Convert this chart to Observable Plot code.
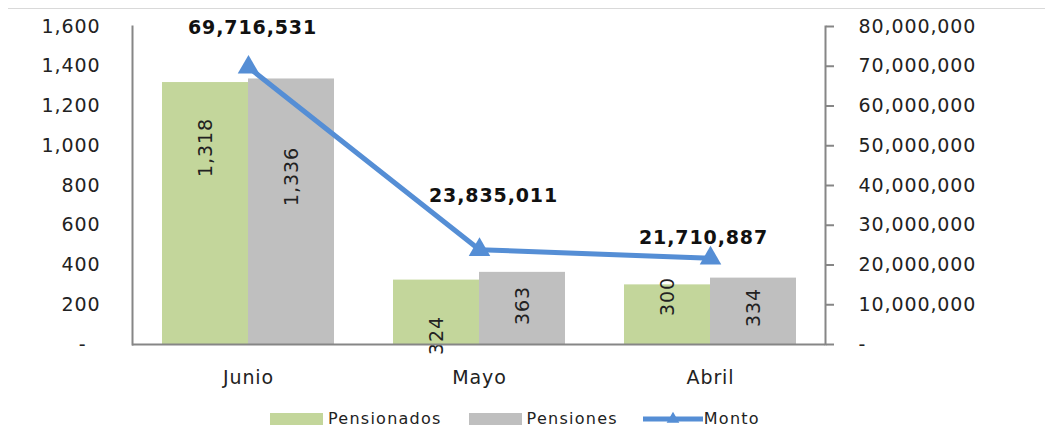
<!DOCTYPE html>
<html>
<head>
<meta charset="utf-8">
<script src="https://cdn.jsdelivr.net/npm/d3@7"></script>
<script src="https://cdn.jsdelivr.net/npm/@observablehq/plot@0.6"></script>
<style>
  html, body { margin: 0; padding: 0; background: #fff; }
  #wrap { position: relative; width: 1045px; height: 428px; overflow: hidden; font-family: "DejaVu Sans", sans-serif; }
  #topline { position: absolute; left: 8px; top: 8px; width: 1037px; height: 1px; background: #d9d9d9; }
  #chart { position: absolute; left: 0; top: 0; }
  #legend { position: absolute; left: 270px; top: 409px; display: flex; align-items: center; font-size: 16px; letter-spacing: 1.25px; color: #222; }
  .item { display: flex; align-items: center; }
  .sw { width: 53px; height: 12px; margin-right: 5px; }
</style>
</head>
<body>
<div id="wrap">
  <div id="topline"></div>
  <div id="chart"></div>
  <div id="legend"></div>
</div>
<script>
// ---- data ----
const months = ["Junio", "Mayo", "Abril"];
const pensionados = [1318, 324, 300];
const pensiones = [1336, 363, 334];
const monto = [69716531, 23835011, 21710887];
const leftTicks = [0, 200, 400, 600, 800, 1000, 1200, 1400, 1600];
const rightTicks = [0, 10000000, 20000000, 30000000, 40000000, 50000000, 60000000, 70000000, 80000000];

// ---- layout (label placement as in the original) ----
const pensionadosLabelAt = [991, 45, 241];
const pensionesLabelAt = [845, 196, 186];
const montoLabelOffset = [[4, -39], [14, -54], [-7, -20]];

const green = "#C3D69B", gray = "#BFBFBF", blue = "#558ED5";
const axisGray = "#868686", ink = "#222";
const k = 1600 / 80000000; // right-axis units -> left-axis units
const fmt = d3.format(",");

const barRows = [
  ...months.map((m, i) => ({mes: m, serie: "Pensionados", valor: pensionados[i], labelAt: pensionadosLabelAt[i]})),
  ...months.map((m, i) => ({mes: m, serie: "Pensiones", valor: pensiones[i], labelAt: pensionesLabelAt[i]}))
];
const lineRows = months.map((m, i) => ({mes: m, monto: monto[i]}));
const half = 43;

const chart = Plot.plot({
  width: 1045,
  height: 400,
  marginLeft: 132,
  marginRight: 220,
  marginTop: 26,
  marginBottom: 56,
  style: {fontFamily: "DejaVu Sans, sans-serif", background: "transparent", overflow: "visible"},
  x: {domain: months, paddingInner: 0.628, paddingOuter: 0.314},
  y: {domain: [0, 1600]},
  marks: [
    Plot.barY(barRows.filter(d => d.serie === "Pensionados"), {x: "mes", y: "valor", fill: green, dx: -half}),
    Plot.barY(barRows.filter(d => d.serie === "Pensiones"), {x: "mes", y: "valor", fill: gray, dx: half}),
    Plot.text(barRows.filter(d => d.serie === "Pensionados"), {x: "mes", y: "labelAt", text: d => fmt(d.valor), rotate: -90, dx: -half, fontSize: 19, fill: ink}),
    Plot.text(barRows.filter(d => d.serie === "Pensiones"), {x: "mes", y: "labelAt", text: d => fmt(d.valor), rotate: -90, dx: half, fontSize: 19, fill: ink}),
    Plot.ruleY([0], {stroke: axisGray, strokeWidth: 2}),
    Plot.frame({anchor: "left", stroke: axisGray, strokeWidth: 2}),
    Plot.frame({anchor: "right", stroke: axisGray, strokeWidth: 2}),
    Plot.axisY(leftTicks, {anchor: "left", tickSize: 0, tickPadding: 32, fontSize: 19, fill: ink,
      tickFormat: d => d === 0 ? "-\u00a0\u00a0" : fmt(d)}),
    Plot.axisY(rightTicks.map(v => v * k), {anchor: "right", tickSize: 8, tickPadding: 25, fontSize: 19, fill: ink, stroke: axisGray, strokeWidth: 2,
      tickFormat: d => d === 0 ? "-" : fmt(Math.round(d / k))}),
    Plot.axisX({anchor: "bottom", tickSize: 0, tickPadding: 26, fontSize: 19, fill: ink, label: null}),
    Plot.line(lineRows, {x: "mes", y: d => d.monto * k, stroke: blue, strokeWidth: 5}),
    Plot.dot(lineRows, {x: "mes", y: d => d.monto * k, symbol: "triangle", r: 8, fill: blue, stroke: "none"}),
    ...lineRows.map((d, i) => Plot.text([d], {x: "mes", y: r => r.monto * k, text: r => fmt(r.monto), dx: montoLabelOffset[i][0], dy: montoLabelOffset[i][1], fontSize: 19, fontWeight: "bold", fill: "#111"}))
  ]
});
chart.querySelectorAll("text").forEach(t => t.style.letterSpacing = "0.9px");
document.getElementById("chart").append(chart);

// legend
const legend = document.getElementById("legend");
const items = [
  {name: "Pensionados", type: "rect", color: green, gap: 27},
  {name: "Pensiones", type: "rect", color: gray, gap: 25},
  {name: "Monto", type: "line", color: blue, gap: 0}
];
items.forEach(it => {
  const el = document.createElement("div");
  el.className = "item";
  el.style.marginRight = it.gap + "px";
  if (it.type === "rect") {
    const sw = document.createElement("div");
    sw.className = "sw";
    sw.style.background = it.color;
    el.append(sw);
  } else {
    const s = d3.create("svg").attr("width", 60).attr("height", 16).style("margin-right", "1px");
    s.append("line").attr("x1", 0).attr("x2", 60).attr("y1", 8).attr("y2", 8).attr("stroke", it.color).attr("stroke-width", 5);
    s.append("path").attr("d", d3.symbol(d3.symbolTriangle, 70)()).attr("transform", "translate(30,8)").attr("fill", it.color);
    el.append(s.node());
  }
  const t = document.createElement("span");
  t.textContent = it.name;
  el.append(t);
  legend.append(el);
});
</script>
</body>
</html>
